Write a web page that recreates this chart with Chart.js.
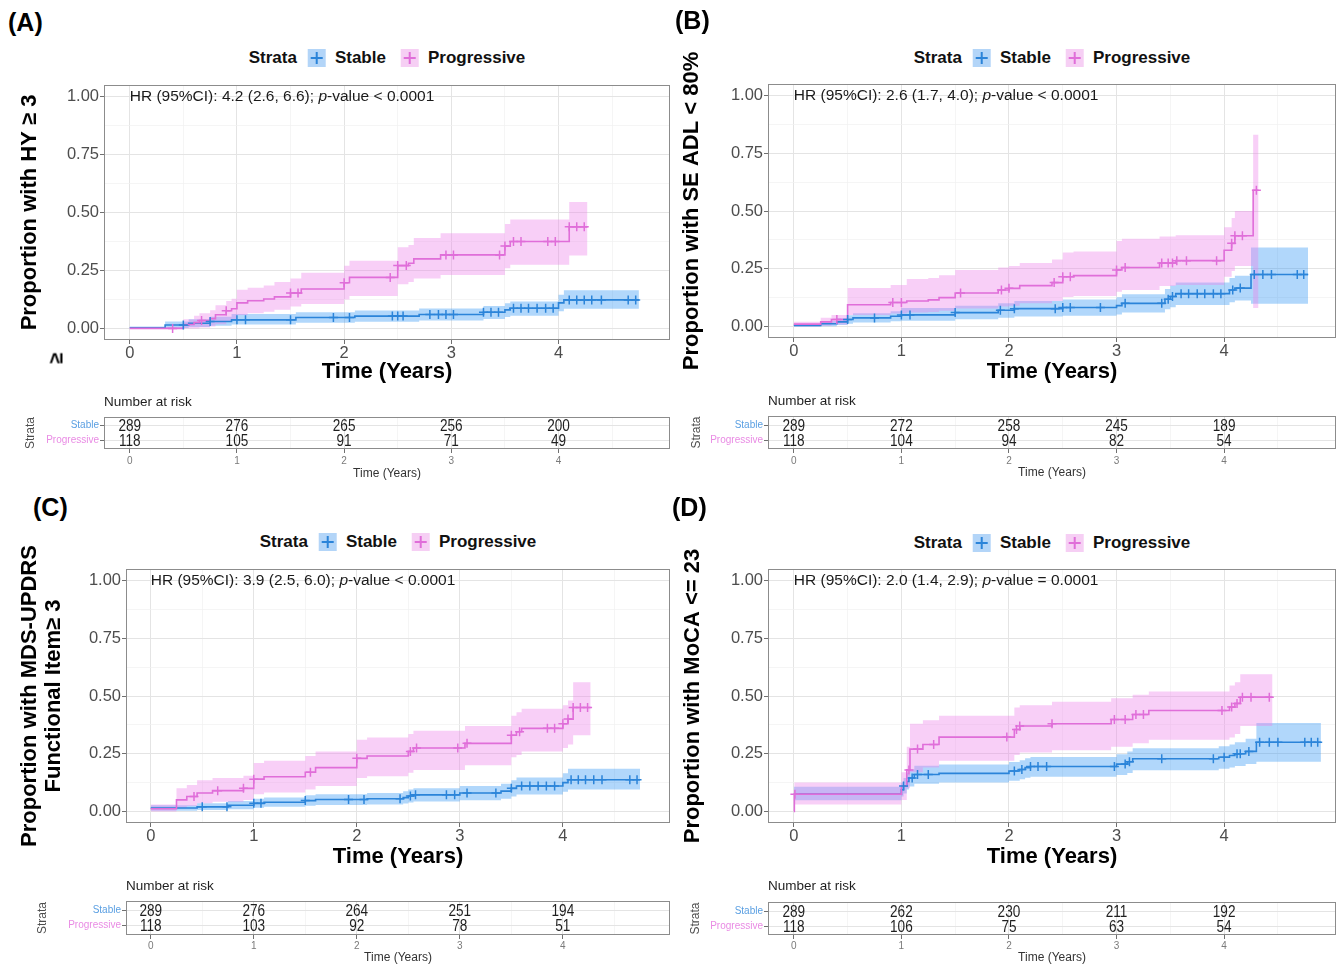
<!DOCTYPE html>
<html>
<head>
<meta charset="utf-8">
<title>Cumulative incidence by strata</title>
<script src="https://cdn.jsdelivr.net/npm/chart.js@4.4.1/dist/chart.umd.min.js"></script>
<style>
  body { margin: 0; background: #fff; font-family: "Liberation Sans", Arial, sans-serif; }
  #fig { position: relative; width: 1338px; height: 967px; overflow: hidden; }
  #fig canvas { position: absolute; }
  .letter { position: absolute; font-size: 25px; font-weight: bold; color: #000; line-height: 28px; }
  .legend { position: absolute; display: flex; align-items: center; transform: translateX(-50%); font-size: 17px; font-weight: bold; color: #111; white-space: nowrap; line-height: 22px; }
  .key { position: relative; width: 18px; height: 18px; margin: 0 9px 0 11px; }
  .key::before { content: ""; position: absolute; left: 3px; right: 3px; top: 8px; height: 2px; background: var(--line); }
  .key::after { content: ""; position: absolute; top: 3px; bottom: 3px; left: 8px; width: 2px; background: var(--line); }
  .stray { position: absolute; font-size: 20px; font-weight: bold; transform: rotate(-90deg); line-height: 24px; }
</style>
</head>
<body>
<div id="fig"></div>
<script>
"use strict";

// shared axes / labels
const xTicks = [0, 1, 2, 3, 4];
const xGrid = [0, 0.5, 1, 1.5, 2, 2.5, 3, 3.5, 4, 4.5];
const yTicks = [0, 0.25, 0.5, 0.75, 1];
const yGrid = [0, 0.125, 0.25, 0.375, 0.5, 0.625, 0.75, 0.875, 1];
const strata = ["Stable", "Progressive"];
const riskTimes = [0, 1, 2, 3, 4];

// (A) HY >= 3
const aStableTime = [0, 0.33, 0.55, 0.75, 0.95, 1.55, 2.1, 2.7, 3.3, 3.5, 3.55, 4.0, 4.05, 4.75];
const aStableEst = [0.003, 0.015, 0.022, 0.03, 0.037, 0.047, 0.053, 0.06, 0.07, 0.08, 0.087, 0.11, 0.123, 0.123];
const aStableLow = [0, 0.002, 0.006, 0.011, 0.017, 0.024, 0.029, 0.034, 0.041, 0.049, 0.055, 0.074, 0.085, 0.085];
const aStableHigh = [0.008, 0.03, 0.04, 0.05, 0.062, 0.07, 0.077, 0.086, 0.097, 0.108, 0.116, 0.145, 0.165, 0.165];
const aStableCens = [0.5, 0.75, 1.0, 1.08, 1.5, 1.9, 2.05, 2.45, 2.5, 2.55, 2.8, 2.88, 2.95, 3.02, 3.3, 3.37, 3.44, 3.58, 3.65, 3.72, 3.8, 3.88, 3.95, 4.1, 4.17, 4.24, 4.31, 4.4, 4.65, 4.72];
const aProgTime = [0, 0.5, 0.6, 0.65, 0.75, 0.8, 0.9, 0.95, 1.0, 1.1, 1.25, 1.35, 1.5, 1.6, 2.0, 2.05, 2.5, 2.6, 2.65, 2.9, 3.5, 3.55, 4.1, 4.27];
const aProgEst = [0, 0.017, 0.025, 0.034, 0.042, 0.059, 0.076, 0.085, 0.11, 0.119, 0.127, 0.136, 0.153, 0.17, 0.197, 0.22, 0.271, 0.281, 0.3, 0.317, 0.355, 0.375, 0.438, 0.438];
const aProgLow = [0, 0, 0, 0.004, 0.008, 0.018, 0.03, 0.036, 0.058, 0.065, 0.072, 0.08, 0.095, 0.105, 0.125, 0.14, 0.19, 0.2, 0.215, 0.23, 0.26, 0.275, 0.315, 0.315];
const aProgHigh = [0.005, 0.04, 0.055, 0.065, 0.078, 0.1, 0.118, 0.128, 0.167, 0.175, 0.185, 0.2, 0.215, 0.24, 0.27, 0.292, 0.35, 0.36, 0.39, 0.41, 0.45, 0.47, 0.545, 0.545];
const aProgCens = [0.4, 0.67, 0.9, 1.5, 1.57, 2.0, 2.43, 2.5, 2.58, 2.95, 3.02, 3.45, 3.5, 3.58, 3.65, 3.9, 3.97, 4.1, 4.17, 4.24];
const aRiskStable = [289, 276, 265, 256, 200];
const aRiskProg = [118, 105, 91, 71, 49];

// (B) SE ADL < 80%
const bStableTime = [0, 0.25, 0.4, 0.5, 0.55, 0.9, 1.0, 1.5, 1.9, 2.05, 2.5, 3.0, 3.05, 3.45, 3.5, 3.55, 4.05, 4.1, 4.25, 4.78];
const bStableEst = [0.004, 0.012, 0.02, 0.03, 0.037, 0.044, 0.05, 0.06, 0.07, 0.077, 0.082, 0.09, 0.1, 0.118, 0.13, 0.142, 0.158, 0.166, 0.225, 0.225];
const bStableLow = [0, 0.001, 0.006, 0.012, 0.017, 0.022, 0.025, 0.031, 0.038, 0.043, 0.046, 0.052, 0.06, 0.074, 0.083, 0.093, 0.105, 0.112, 0.098, 0.098];
const bStableHigh = [0.01, 0.024, 0.035, 0.048, 0.057, 0.066, 0.08, 0.09, 0.1, 0.11, 0.117, 0.127, 0.14, 0.162, 0.177, 0.19, 0.21, 0.22, 0.342, 0.342];
const bStableCens = [0.5, 0.75, 1.0, 1.08, 1.5, 1.92, 2.05, 2.43, 2.5, 2.57, 2.85, 3.08, 3.42, 3.48, 3.52, 3.6, 3.67, 3.75, 3.82, 3.9, 3.97, 4.08, 4.15, 4.28, 4.36, 4.44, 4.68, 4.74];
const bProgTime = [0, 0.25, 0.35, 0.5, 0.9, 1.05, 1.25, 1.35, 1.5, 1.9, 2.0, 2.1, 2.4, 2.5, 2.6, 3.0, 3.05, 3.4, 3.55, 4.0, 4.07, 4.1, 4.27, 4.32];
const bProgEst = [0.01, 0.02, 0.03, 0.094, 0.104, 0.11, 0.115, 0.125, 0.145, 0.158, 0.165, 0.177, 0.19, 0.215, 0.22, 0.245, 0.255, 0.275, 0.285, 0.33, 0.36, 0.393, 0.59, 0.59];
const bProgLow = [0, 0.003, 0.008, 0.05, 0.056, 0.06, 0.063, 0.068, 0.078, 0.086, 0.09, 0.1, 0.11, 0.128, 0.132, 0.15, 0.158, 0.175, 0.18, 0.215, 0.24, 0.262, 0.08, 0.08];
const bProgHigh = [0.02, 0.038, 0.05, 0.166, 0.18, 0.205, 0.21, 0.222, 0.245, 0.255, 0.262, 0.275, 0.29, 0.32, 0.325, 0.37, 0.38, 0.39, 0.395, 0.43, 0.47, 0.5, 0.83, 0.83];
const bProgCens = [0.4, 0.92, 1.0, 1.55, 1.93, 2.0, 2.42, 2.5, 2.57, 3.0, 3.08, 3.42, 3.48, 3.52, 3.56, 3.65, 3.93, 4.07, 4.1, 4.17, 4.3];
const bRiskStable = [289, 272, 258, 245, 189];
const bRiskProg = [118, 104, 94, 82, 54];

// (C) MDS-UPDRS functional item >= 3
const cStableTime = [0, 0.45, 0.75, 1.0, 1.1, 1.5, 1.6, 2.1, 2.45, 2.5, 2.55, 3.0, 3.4, 3.5, 3.55, 4.0, 4.05, 4.75];
const cStableEst = [0.015, 0.02, 0.027, 0.035, 0.04, 0.047, 0.052, 0.055, 0.06, 0.067, 0.072, 0.08, 0.088, 0.1, 0.11, 0.125, 0.137, 0.137];
const cStableLow = [0.003, 0.006, 0.01, 0.016, 0.02, 0.025, 0.028, 0.03, 0.034, 0.039, 0.043, 0.049, 0.055, 0.065, 0.073, 0.085, 0.095, 0.095];
const cStableHigh = [0.027, 0.035, 0.045, 0.055, 0.06, 0.07, 0.075, 0.08, 0.087, 0.095, 0.1, 0.11, 0.12, 0.135, 0.147, 0.165, 0.185, 0.185];
const cStableCens = [0.5, 0.74, 1.0, 1.07, 1.5, 1.92, 2.07, 2.42, 2.52, 2.57, 2.87, 2.95, 3.07, 3.35, 3.5, 3.6, 3.68, 3.76, 3.84, 3.92, 4.08, 4.15, 4.22, 4.3, 4.38, 4.65, 4.72];
const cProgTime = [0, 0.25, 0.35, 0.45, 0.6, 0.9, 1.0, 1.1, 1.5, 1.6, 2.0, 2.1, 2.5, 2.55, 3.05, 3.5, 3.55, 3.6, 4.0, 4.05, 4.1, 4.27];
const cProgEst = [0.012, 0.05, 0.065, 0.08, 0.09, 0.1, 0.14, 0.15, 0.17, 0.19, 0.23, 0.24, 0.26, 0.275, 0.295, 0.33, 0.345, 0.36, 0.38, 0.4, 0.45, 0.45];
const cProgLow = [0, 0.015, 0.024, 0.035, 0.042, 0.05, 0.075, 0.082, 0.095, 0.11, 0.145, 0.152, 0.168, 0.18, 0.2, 0.235, 0.245, 0.26, 0.275, 0.29, 0.33, 0.33];
const cProgHigh = [0.03, 0.1, 0.115, 0.135, 0.145, 0.155, 0.21, 0.22, 0.24, 0.26, 0.31, 0.32, 0.335, 0.35, 0.37, 0.415, 0.43, 0.445, 0.46, 0.48, 0.56, 0.56];
const cProgCens = [0.42, 0.65, 0.9, 1.0, 1.55, 2.0, 2.52, 2.58, 2.98, 3.07, 3.5, 3.58, 3.85, 3.92, 4.0, 4.05, 4.1, 4.17, 4.24];
const cRiskStable = [289, 276, 264, 251, 194];
const cRiskProg = [118, 103, 92, 78, 51];

// (D) MoCA <= 23
const dStableTime = [0, 1.0, 1.02, 1.05, 1.07, 1.12, 1.35, 2.0, 2.1, 2.15, 2.2, 3.0, 3.1, 3.15, 3.95, 4.05, 4.1, 4.2, 4.3, 4.9];
const dStableEst = [0.075, 0.094, 0.11, 0.13, 0.145, 0.16, 0.165, 0.175, 0.182, 0.19, 0.195, 0.205, 0.215, 0.228, 0.235, 0.242, 0.25, 0.26, 0.3, 0.3];
const dStableLow = [0.048, 0.065, 0.078, 0.095, 0.108, 0.12, 0.125, 0.133, 0.139, 0.146, 0.15, 0.158, 0.167, 0.178, 0.185, 0.19, 0.197, 0.205, 0.215, 0.215];
const dStableHigh = [0.107, 0.125, 0.145, 0.168, 0.183, 0.198, 0.203, 0.214, 0.222, 0.23, 0.236, 0.248, 0.26, 0.274, 0.282, 0.29, 0.3, 0.315, 0.383, 0.383];
const dStableCens = [1.02, 1.1, 1.15, 1.25, 2.05, 2.12, 2.2, 2.27, 2.35, 2.98, 3.08, 3.12, 3.42, 3.9, 4.0, 4.12, 4.15, 4.23, 4.33, 4.42, 4.5, 4.75, 4.81, 4.87];
const dProgTime = [0, 0.005, 1.0, 1.05, 1.08, 1.2, 1.35, 2.05, 2.1, 2.4, 2.95, 3.15, 3.3, 4.05, 4.1, 4.15, 4.45];
const dProgEst = [0, 0.075, 0.11, 0.18, 0.27, 0.29, 0.322, 0.355, 0.37, 0.38, 0.398, 0.42, 0.437, 0.452, 0.468, 0.495, 0.495];
const dProgLow = [0, 0.03, 0.05, 0.1, 0.17, 0.19, 0.22, 0.245, 0.255, 0.265, 0.28, 0.295, 0.31, 0.32, 0.335, 0.37, 0.37];
const dProgHigh = [0, 0.125, 0.17, 0.28, 0.38, 0.395, 0.415, 0.45, 0.46, 0.475, 0.49, 0.505, 0.52, 0.545, 0.56, 0.594, 0.594];
const dProgCens = [0.01, 1.07, 1.15, 1.3, 1.98, 2.07, 2.1, 2.4, 2.98, 3.08, 3.18, 3.25, 3.98, 4.07, 4.12, 4.17, 4.25, 4.42];
const dRiskStable = [289, 262, 230, 211, 192];
const dRiskProg = [118, 106, 75, 63, 54];

const BLUE = "#2b84d9";
const BLUE_BAND = "rgba(40, 145, 245, 0.36)";
const BLUE_KEY = "#b3d5f8";
const PINK = "#e06ed9";
const PINK_BAND = "rgba(236, 128, 234, 0.38)";
const PINK_KEY = "#f6cff4";
const FONT = '"Liberation Sans", Arial, sans-serif';

// canvases are taller / wider than the plot so long titles and edge labels are not cut
const panels = [
  {
    letter: "(A)", yTitle: "Proportion with HY ≥ 3", hr: "4.2 (2.6, 6.6)", pval: "< 0.0001",
    stable: [aStableTime, aStableEst, aStableLow, aStableHigh, aStableCens],
    prog: [aProgTime, aProgEst, aProgLow, aProgHigh, aProgCens],
    risk: [aRiskStable, aRiskProg],
    L: { left: 0, width: 680, mainTop: 30, mainH: 362, plotL: 104, plotT: 85, plotR: 670, plotB: 340, yTitlePad: 18, xTitlePad: 6.8,
         riskTop: 390, riskH: 95, riskT: 417, riskB: 449, rTitleTop: 4, strataPad: 23, rXTitlePad: 3.8, rTickPad: 2,
         legendTop: 47, letterL: 8, letterT: 8 },
  },
  {
    letter: "(B)", yTitle: "Proportion with SE ADL < 80%", hr: "2.6 (1.7, 4.0)", pval: "< 0.0001",
    stable: [bStableTime, bStableEst, bStableLow, bStableHigh, bStableCens],
    prog: [bProgTime, bProgEst, bProgLow, bProgHigh, bProgCens],
    risk: [bRiskStable, bRiskProg],
    L: { left: 670, width: 700, mainTop: 30, mainH: 362, plotL: 768, plotT: 84, plotR: 1336, plotB: 338, yTitlePad: 10, xTitlePad: 6.8,
         riskTop: 390, riskH: 95, riskT: 416, riskB: 449, rTitleTop: 3, strataPad: 19, rXTitlePad: 4.8, rTickPad: 2,
         legendTop: 47, letterL: 675, letterT: 6 },
  },
  {
    letter: "(C)", yTitle: ["Proportion with MDS-UPDRS", "Functional Item≥ 3"], hr: "3.9 (2.5, 6.0)", pval: "< 0.0001",
    stable: [cStableTime, cStableEst, cStableLow, cStableHigh, cStableCens],
    prog: [cProgTime, cProgEst, cProgLow, cProgHigh, cProgCens],
    risk: [cRiskStable, cRiskProg],
    L: { left: 0, width: 680, mainTop: 515, mainH: 360, plotL: 126, plotT: 569, plotR: 670, plotB: 823, yTitlePad: 18, xTitlePad: 4.8,
         riskTop: 873, riskH: 94, riskT: 901, riskB: 935, rTitleTop: 5.5, strataPad: 35, rXTitlePad: 1.8, rTickPad: 1,
         legendTop: 531, letterL: 33, letterT: 493 },
  },
  {
    letter: "(D)", yTitle: "Proportion with MoCA <= 23", hr: "2.0 (1.4, 2.9)", pval: "= 0.0001",
    stable: [dStableTime, dStableEst, dStableLow, dStableHigh, dStableCens],
    prog: [dProgTime, dProgEst, dProgLow, dProgHigh, dProgCens],
    risk: [dRiskStable, dRiskProg],
    L: { left: 670, width: 700, mainTop: 515, mainH: 360, plotL: 768, plotT: 569, plotR: 1336, plotB: 823, yTitlePad: 11, xTitlePad: 4.8,
         riskTop: 873, riskH: 94, riskT: 902, riskB: 935, rTitleTop: 5.5, strataPad: 18, rXTitlePad: 1.8, rTickPad: 1,
         legendTop: 532, letterL: 672, letterT: 493 },
  },
];

Chart.defaults.font.family = FONT;
Chart.defaults.animation = false;

const fig = document.getElementById("fig");

function addCanvas(left, top, width, height) {
  const c = document.createElement("canvas");
  c.width = width;
  c.height = height;
  c.style.left = left + "px";
  c.style.top = top + "px";
  c.style.width = width + "px";
  c.style.height = height + "px";
  fig.appendChild(c);
  return c;
}

function addDiv(cls, left, top, html) {
  const d = document.createElement("div");
  d.className = cls;
  d.style.left = left + "px";
  d.style.top = top + "px";
  d.innerHTML = html;
  fig.appendChild(d);
  return d;
}

const pts = (xs, ys) => xs.map((x, i) => ({ x: x, y: ys[i] }));

// value of a step curve at time t
const stepAt = (times, est, t) => {
  let v = est[0];
  times.forEach((x, i) => { if (x <= t) v = est[i]; });
  return v;
};

// theme_bw style grid: majors solid + tick marks, minors faint
function gridOpts(majors) {
  const isMajor = (c) => c.tick && majors.includes(c.tick.value);
  return {
    color: (c) => (isMajor(c) ? "#e4e4e4" : "#f1f1f1"),
    lineWidth: (c) => (isMajor(c) ? 1 : 0.7),
    tickLength: 4,
    tickColor: (c) => (isMajor(c) ? "#707070" : "rgba(0,0,0,0)"),
    tickWidth: 1,
  };
}

const borderPlugin = {
  id: "panelBorder",
  afterDraw(chart) {
    const a = chart.chartArea;
    const ctx = chart.ctx;
    ctx.save();
    ctx.strokeStyle = "#8c8c8c";
    ctx.lineWidth = 1;
    ctx.strokeRect(Math.round(a.left) + 0.5, Math.round(a.top) + 0.5, Math.round(a.width) - 1, Math.round(a.height) - 1);
    ctx.restore();
  },
};

// KM CURVES
function makeKM(p) {
  const L = p.L;
  const canvas = addCanvas(L.left, L.mainTop, L.width, L.mainH);
  const [sT, sE, sL, sH, sC] = p.stable;
  const [gT, gE, gL, gH, gC] = p.prog;

  const line = (data, color) => ({ data, borderColor: color, borderWidth: 1.6, stepped: true, pointRadius: 0, fill: false });
  const band = (data, color, fill) => ({ data, borderWidth: 0, borderColor: "rgba(0,0,0,0)", backgroundColor: color, stepped: true, pointRadius: 0, fill });
  const cens = (times, T, E, color) => ({
    data: times.map((t) => ({ x: t, y: stepAt(T, E, t) })),
    showLine: false, pointStyle: "cross", pointRadius: 4.5, pointBorderWidth: 1.5,
    pointBorderColor: color, borderColor: color, backgroundColor: color,
  });

  const hrPlugin = {
    id: "hrText",
    afterDatasetsDraw(chart) {
      const ctx = chart.ctx;
      let x = chart.scales.x.getPixelForValue(0);
      const y = chart.scales.y.getPixelForValue(1);
      const f = "15.5px " + FONT;
      const parts = [["HR (95%CI): " + p.hr + "; ", f], ["p", "italic " + f], ["-value " + p.pval, f]];
      ctx.save();
      ctx.fillStyle = "#1a1a1a";
      ctx.textBaseline = "middle";
      ctx.textAlign = "left";
      parts.forEach(([s, font]) => {
        ctx.font = font;
        ctx.fillText(s, x, y);
        x += ctx.measureText(s).width;
      });
      ctx.restore();
    },
  };

  new Chart(canvas, {
    type: "line",
    data: {
      datasets: [
        cens(gC, gT, gE, PINK),
        cens(sC, sT, sE, BLUE),
        line(pts(gT, gE), PINK),
        line(pts(sT, sE), BLUE),
        band(pts(gT, gH), PINK_BAND, "+1"),
        band(pts(gT, gL), PINK_BAND, false),
        band(pts(sT, sH), BLUE_BAND, "+1"),
        band(pts(sT, sL), BLUE_BAND, false),
      ],
    },
    options: {
      responsive: false,
      animation: false,
      events: [],
      layout: { padding: { top: L.plotT - L.mainTop, right: L.left + L.width - L.plotR, left: 0, bottom: 0 } },
      plugins: { legend: { display: false }, tooltip: { enabled: false } },
      scales: {
        x: {
          type: "linear", min: -0.24, max: 5.04,
          afterBuildTicks: (s) => { s.ticks = xGrid.map((v) => ({ value: v })); },
          afterFit: (s) => { s.height = L.mainTop + L.mainH - L.plotB; },
          ticks: { autoSkip: false, maxRotation: 0, padding: 0, color: "#4d4d4d", font: { size: 16.5 },
                   callback: (v) => (xTicks.includes(v) ? String(v) : "") },
          grid: gridOpts(xTicks),
          border: { display: false },
          title: { display: true, text: "Time (Years)", color: "#000", font: { size: 22, weight: "bold" },
                   padding: { top: 0, bottom: L.xTitlePad } },
        },
        y: {
          type: "linear", min: -0.05, max: 1.05,
          afterBuildTicks: (s) => { s.ticks = yGrid.map((v) => ({ value: v })); },
          afterFit: (s) => { s.width = L.plotL - L.left; },
          ticks: { autoSkip: false, padding: 1, color: "#4d4d4d", font: { size: 16.5 },
                   callback: (v) => (yTicks.includes(v) ? v.toFixed(2) : "") },
          grid: gridOpts(yTicks),
          border: { display: false },
          title: { display: true, text: p.yTitle, color: "#000", font: { size: 22, weight: "bold", lineHeight: 1.1 },
                   padding: { top: L.yTitlePad, bottom: 0 } },
        },
      },
    },
    plugins: [hrPlugin, borderPlugin],
  });
}

// NUMBER AT RISK TABLE
function makeRisk(p) {
  const L = p.L;
  const canvas = addCanvas(L.left, L.riskTop, L.width, L.riskH);
  const [rs, rp] = p.risk;

  const countPlugin = {
    id: "riskCounts",
    afterDatasetsDraw(chart) {
      const ctx = chart.ctx;
      chart.data.datasets.forEach((ds, di) => {
        chart.getDatasetMeta(di).data.forEach((el, i) => {
          ctx.save();
          ctx.font = "17px " + FONT;
          ctx.fillStyle = "#1f1f1f";
          ctx.textAlign = "center";
          ctx.textBaseline = "middle";
          ctx.translate(el.x, el.y + 1);
          ctx.scale(0.8, 1); // condensed digits like the original table
          ctx.fillText(String(ds.data[i].n), 0, 0);
          ctx.restore();
        });
      });
    },
  };

  new Chart(canvas, {
    type: "line",
    data: {
      datasets: [
        { data: riskTimes.map((t, i) => ({ x: t, y: 2, n: rs[i] })), showLine: false, pointRadius: 0 },
        { data: riskTimes.map((t, i) => ({ x: t, y: 1, n: rp[i] })), showLine: false, pointRadius: 0 },
      ],
    },
    options: {
      responsive: false,
      animation: false,
      events: [],
      layout: { padding: { top: 0, right: L.left + L.width - L.plotR, left: 0, bottom: 0 } },
      plugins: {
        legend: { display: false },
        tooltip: { enabled: false },
        title: {
          display: true, text: "Number at risk", align: "start", fullSize: false, color: "#1f1f1f",
          font: { size: 13.5, weight: "normal", lineHeight: 1.2 },
          padding: { top: L.rTitleTop, bottom: L.riskT - L.riskTop - L.rTitleTop - 16.2 },
        },
      },
      scales: {
        x: {
          type: "linear", min: -0.24, max: 5.04,
          afterBuildTicks: (s) => { s.ticks = xGrid.map((v) => ({ value: v })); },
          afterFit: (s) => { s.height = L.riskTop + L.riskH - L.riskB; },
          ticks: { autoSkip: false, maxRotation: 0, padding: L.rTickPad, color: "#7a7a7a", font: { size: 10 },
                   callback: (v) => (xTicks.includes(v) ? String(v) : "") },
          grid: gridOpts(xTicks),
          border: { display: false },
          title: { display: true, text: "Time (Years)", color: "#333", font: { size: 12 },
                   padding: { top: 0, bottom: L.rXTitlePad } },
        },
        y: {
          type: "linear", min: 0.4, max: 2.6,
          afterBuildTicks: (s) => { s.ticks = [1, 2].map((v) => ({ value: v })); },
          afterFit: (s) => { s.width = L.plotL - L.left; },
          ticks: { autoSkip: false, padding: 1, font: { size: 10 },
                   color: (c) => (c.tick && c.tick.value === 2 ? "#5a9fe2" : "#e98be4"),
                   callback: (v) => (v === 2 ? strata[0] : strata[1]) },
          grid: gridOpts([1, 2]),
          border: { display: false },
          title: { display: true, text: "Strata", color: "#4d4d4d", font: { size: 12 },
                   padding: { top: L.strataPad, bottom: 0 } },
        },
      },
    },
    plugins: [countPlugin, borderPlugin],
  });
}

function addLegend(p) {
  const L = p.L;
  const cx = (L.plotL + L.plotR) / 2;
  addDiv("legend", cx, L.legendTop,
    '<span>Strata</span>' +
    '<span class="key" style="background:' + BLUE_KEY + ';--line:' + BLUE + '"></span><span>' + strata[0] + '</span>' +
    '<span class="key" style="background:' + PINK_KEY + ';--line:' + PINK + ';margin-left:15px"></span><span>' + strata[1] + '</span>');
}

panels.forEach((p) => {
  addDiv("letter", p.L.letterL, p.L.letterT, p.letter);
  addLegend(p);
  makeKM(p);
  makeRisk(p);
});

// leftover glyph under panel A's axis title
addDiv("stray", 50, 346, "≥");
</script>
</body>
</html>
